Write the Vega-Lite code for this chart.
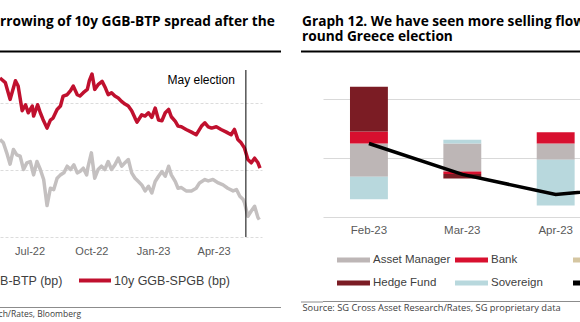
{
  "$schema": "https://vega.github.io/schema/vega-lite/v6.json",
  "padding": {"left": -123, "top": 14.5, "right": -114, "bottom": 0},
  "background": "white",
  "config": {
    "view": {"stroke": null},
    "font": "Liberation Sans",
    "axis": {"title": null, "labelColor": "#595959", "labelFont": "Liberation Sans"},
    "legend": {"labelFont": "Liberation Sans", "labelColor": "#404040", "padding": 0, "title": null},
    "title": {"font": "Open Sans", "fontWeight": "bold", "fontSize": 13.7, "color": "#000000", "anchor": "start"}
  },
  "resolve": {"scale": {"color": "independent"}, "legend": {"color": "independent"}},
  "spacing": 19,
  "hconcat": [
    {
      "spacing": 17.5,
      "bounds": "flush",
      "vconcat": [
        {
          "width": 281, "height": 2,
          "view": {"fill": "#000000", "stroke": null},
          "title": {"text": ["Graph 11. Narrowing of 10y GGB-BTP spread after the", "election"], "dx": -88, "offset": -9.5, "baseline": "alphabetic", "lineHeight": 15},
          "data": {"values": [{"a": 1}]},
          "mark": {"type": "text", "text": ""},
          "encoding": {}
        },
        {
          "spacing": 70,
          "bounds": "flush",
          "vconcat": [
            {
              "width": 262, "height": 167,
              "layer": [
                {
                  "data": {"values": [
                    {"date":"2022-05-18","series":"10y GGB-SPGB (bp)","bp":163},
                    {"date":"2022-05-26","series":"10y GGB-SPGB (bp)","bp":156},
                    {"date":"2022-06-02","series":"10y GGB-SPGB (bp)","bp":131},
                    {"date":"2022-06-10","series":"10y GGB-SPGB (bp)","bp":159},
                    {"date":"2022-06-14","series":"10y GGB-SPGB (bp)","bp":151},
                    {"date":"2022-06-20","series":"10y GGB-SPGB (bp)","bp":114},
                    {"date":"2022-06-25","series":"10y GGB-SPGB (bp)","bp":123},
                    {"date":"2022-06-29","series":"10y GGB-SPGB (bp)","bp":111},
                    {"date":"2022-07-05","series":"10y GGB-SPGB (bp)","bp":121},
                    {"date":"2022-07-07","series":"10y GGB-SPGB (bp)","bp":106},
                    {"date":"2022-07-13","series":"10y GGB-SPGB (bp)","bp":123},
                    {"date":"2022-07-17","series":"10y GGB-SPGB (bp)","bp":111},
                    {"date":"2022-07-21","series":"10y GGB-SPGB (bp)","bp":101},
                    {"date":"2022-07-27","series":"10y GGB-SPGB (bp)","bp":88},
                    {"date":"2022-08-01","series":"10y GGB-SPGB (bp)","bp":100},
                    {"date":"2022-08-05","series":"10y GGB-SPGB (bp)","bp":103},
                    {"date":"2022-08-11","series":"10y GGB-SPGB (bp)","bp":116},
                    {"date":"2022-08-16","series":"10y GGB-SPGB (bp)","bp":121},
                    {"date":"2022-08-20","series":"10y GGB-SPGB (bp)","bp":136},
                    {"date":"2022-08-26","series":"10y GGB-SPGB (bp)","bp":138},
                    {"date":"2022-08-31","series":"10y GGB-SPGB (bp)","bp":144},
                    {"date":"2022-09-04","series":"10y GGB-SPGB (bp)","bp":151},
                    {"date":"2022-09-10","series":"10y GGB-SPGB (bp)","bp":138},
                    {"date":"2022-09-14","series":"10y GGB-SPGB (bp)","bp":136},
                    {"date":"2022-09-19","series":"10y GGB-SPGB (bp)","bp":141},
                    {"date":"2022-09-25","series":"10y GGB-SPGB (bp)","bp":146},
                    {"date":"2022-09-28","series":"10y GGB-SPGB (bp)","bp":159},
                    {"date":"2022-10-02","series":"10y GGB-SPGB (bp)","bp":169},
                    {"date":"2022-10-06","series":"10y GGB-SPGB (bp)","bp":146},
                    {"date":"2022-10-11","series":"10y GGB-SPGB (bp)","bp":153},
                    {"date":"2022-10-17","series":"10y GGB-SPGB (bp)","bp":158},
                    {"date":"2022-10-22","series":"10y GGB-SPGB (bp)","bp":148},
                    {"date":"2022-10-26","series":"10y GGB-SPGB (bp)","bp":138},
                    {"date":"2022-10-31","series":"10y GGB-SPGB (bp)","bp":141},
                    {"date":"2022-11-05","series":"10y GGB-SPGB (bp)","bp":136},
                    {"date":"2022-11-10","series":"10y GGB-SPGB (bp)","bp":133},
                    {"date":"2022-11-15","series":"10y GGB-SPGB (bp)","bp":128},
                    {"date":"2022-11-20","series":"10y GGB-SPGB (bp)","bp":124},
                    {"date":"2022-11-25","series":"10y GGB-SPGB (bp)","bp":121},
                    {"date":"2022-11-30","series":"10y GGB-SPGB (bp)","bp":114},
                    {"date":"2022-12-05","series":"10y GGB-SPGB (bp)","bp":103},
                    {"date":"2022-12-08","series":"10y GGB-SPGB (bp)","bp":97},
                    {"date":"2022-12-15","series":"10y GGB-SPGB (bp)","bp":108},
                    {"date":"2022-12-20","series":"10y GGB-SPGB (bp)","bp":106},
                    {"date":"2022-12-25","series":"10y GGB-SPGB (bp)","bp":111},
                    {"date":"2022-12-30","series":"10y GGB-SPGB (bp)","bp":104},
                    {"date":"2023-01-04","series":"10y GGB-SPGB (bp)","bp":118},
                    {"date":"2023-01-09","series":"10y GGB-SPGB (bp)","bp":100},
                    {"date":"2023-01-14","series":"10y GGB-SPGB (bp)","bp":99},
                    {"date":"2023-01-19","series":"10y GGB-SPGB (bp)","bp":111},
                    {"date":"2023-01-24","series":"10y GGB-SPGB (bp)","bp":116},
                    {"date":"2023-01-28","series":"10y GGB-SPGB (bp)","bp":105},
                    {"date":"2023-02-03","series":"10y GGB-SPGB (bp)","bp":98},
                    {"date":"2023-02-07","series":"10y GGB-SPGB (bp)","bp":91},
                    {"date":"2023-02-12","series":"10y GGB-SPGB (bp)","bp":90},
                    {"date":"2023-02-19","series":"10y GGB-SPGB (bp)","bp":86},
                    {"date":"2023-02-27","series":"10y GGB-SPGB (bp)","bp":82},
                    {"date":"2023-03-06","series":"10y GGB-SPGB (bp)","bp":78},
                    {"date":"2023-03-14","series":"10y GGB-SPGB (bp)","bp":91},
                    {"date":"2023-03-19","series":"10y GGB-SPGB (bp)","bp":96},
                    {"date":"2023-03-24","series":"10y GGB-SPGB (bp)","bp":90},
                    {"date":"2023-03-29","series":"10y GGB-SPGB (bp)","bp":88},
                    {"date":"2023-04-05","series":"10y GGB-SPGB (bp)","bp":90},
                    {"date":"2023-04-12","series":"10y GGB-SPGB (bp)","bp":86},
                    {"date":"2023-04-20","series":"10y GGB-SPGB (bp)","bp":82},
                    {"date":"2023-04-27","series":"10y GGB-SPGB (bp)","bp":78},
                    {"date":"2023-05-02","series":"10y GGB-SPGB (bp)","bp":86},
                    {"date":"2023-05-07","series":"10y GGB-SPGB (bp)","bp":71},
                    {"date":"2023-05-12","series":"10y GGB-SPGB (bp)","bp":66},
                    {"date":"2023-05-17","series":"10y GGB-SPGB (bp)","bp":58},
                    {"date":"2023-05-22","series":"10y GGB-SPGB (bp)","bp":41},
                    {"date":"2023-05-27","series":"10y GGB-SPGB (bp)","bp":36},
                    {"date":"2023-06-01","series":"10y GGB-SPGB (bp)","bp":43},
                    {"date":"2023-06-06","series":"10y GGB-SPGB (bp)","bp":36},
                    {"date":"2023-06-09","series":"10y GGB-SPGB (bp)","bp":28},
                    {"date":"2022-05-18","series":"10y GGB-BTP (bp)","bp":71},
                    {"date":"2022-05-23","series":"10y GGB-BTP (bp)","bp":66},
                    {"date":"2022-05-28","series":"10y GGB-BTP (bp)","bp":51},
                    {"date":"2022-06-02","series":"10y GGB-BTP (bp)","bp":34},
                    {"date":"2022-06-07","series":"10y GGB-BTP (bp)","bp":56},
                    {"date":"2022-06-12","series":"10y GGB-BTP (bp)","bp":48},
                    {"date":"2022-06-17","series":"10y GGB-BTP (bp)","bp":46},
                    {"date":"2022-06-22","series":"10y GGB-BTP (bp)","bp":26},
                    {"date":"2022-06-27","series":"10y GGB-BTP (bp)","bp":36},
                    {"date":"2022-07-02","series":"10y GGB-BTP (bp)","bp":38},
                    {"date":"2022-07-07","series":"10y GGB-BTP (bp)","bp":18},
                    {"date":"2022-07-12","series":"10y GGB-BTP (bp)","bp":38},
                    {"date":"2022-07-17","series":"10y GGB-BTP (bp)","bp":26},
                    {"date":"2022-07-22","series":"10y GGB-BTP (bp)","bp":11},
                    {"date":"2022-07-27","series":"10y GGB-BTP (bp)","bp":-28},
                    {"date":"2022-08-01","series":"10y GGB-BTP (bp)","bp":-2},
                    {"date":"2022-08-06","series":"10y GGB-BTP (bp)","bp":-4},
                    {"date":"2022-08-11","series":"10y GGB-BTP (bp)","bp":13},
                    {"date":"2022-08-16","series":"10y GGB-BTP (bp)","bp":18},
                    {"date":"2022-08-21","series":"10y GGB-BTP (bp)","bp":21},
                    {"date":"2022-08-26","series":"10y GGB-BTP (bp)","bp":31},
                    {"date":"2022-08-31","series":"10y GGB-BTP (bp)","bp":26},
                    {"date":"2022-09-05","series":"10y GGB-BTP (bp)","bp":33},
                    {"date":"2022-09-10","series":"10y GGB-BTP (bp)","bp":21},
                    {"date":"2022-09-14","series":"10y GGB-BTP (bp)","bp":23},
                    {"date":"2022-09-19","series":"10y GGB-BTP (bp)","bp":28},
                    {"date":"2022-09-24","series":"10y GGB-BTP (bp)","bp":18},
                    {"date":"2022-09-26","series":"10y GGB-BTP (bp)","bp":30},
                    {"date":"2022-10-01","series":"10y GGB-BTP (bp)","bp":51},
                    {"date":"2022-10-06","series":"10y GGB-BTP (bp)","bp":13},
                    {"date":"2022-10-11","series":"10y GGB-BTP (bp)","bp":26},
                    {"date":"2022-10-16","series":"10y GGB-BTP (bp)","bp":31},
                    {"date":"2022-10-21","series":"10y GGB-BTP (bp)","bp":26},
                    {"date":"2022-10-26","series":"10y GGB-BTP (bp)","bp":38},
                    {"date":"2022-10-31","series":"10y GGB-BTP (bp)","bp":26},
                    {"date":"2022-11-05","series":"10y GGB-BTP (bp)","bp":33},
                    {"date":"2022-11-10","series":"10y GGB-BTP (bp)","bp":43},
                    {"date":"2022-11-15","series":"10y GGB-BTP (bp)","bp":31},
                    {"date":"2022-11-20","series":"10y GGB-BTP (bp)","bp":36},
                    {"date":"2022-11-25","series":"10y GGB-BTP (bp)","bp":41},
                    {"date":"2022-11-30","series":"10y GGB-BTP (bp)","bp":21},
                    {"date":"2022-12-05","series":"10y GGB-BTP (bp)","bp":13},
                    {"date":"2022-12-10","series":"10y GGB-BTP (bp)","bp":8},
                    {"date":"2022-12-15","series":"10y GGB-BTP (bp)","bp":3},
                    {"date":"2022-12-20","series":"10y GGB-BTP (bp)","bp":-6},
                    {"date":"2022-12-25","series":"10y GGB-BTP (bp)","bp":1},
                    {"date":"2022-12-30","series":"10y GGB-BTP (bp)","bp":-9},
                    {"date":"2023-01-04","series":"10y GGB-BTP (bp)","bp":8},
                    {"date":"2023-01-09","series":"10y GGB-BTP (bp)","bp":16},
                    {"date":"2023-01-14","series":"10y GGB-BTP (bp)","bp":23},
                    {"date":"2023-01-19","series":"10y GGB-BTP (bp)","bp":16},
                    {"date":"2023-01-24","series":"10y GGB-BTP (bp)","bp":31},
                    {"date":"2023-01-28","series":"10y GGB-BTP (bp)","bp":18},
                    {"date":"2023-02-03","series":"10y GGB-BTP (bp)","bp":8},
                    {"date":"2023-02-07","series":"10y GGB-BTP (bp)","bp":-2},
                    {"date":"2023-02-12","series":"10y GGB-BTP (bp)","bp":-1},
                    {"date":"2023-02-19","series":"10y GGB-BTP (bp)","bp":-6},
                    {"date":"2023-02-27","series":"10y GGB-BTP (bp)","bp":-6},
                    {"date":"2023-03-06","series":"10y GGB-BTP (bp)","bp":-2},
                    {"date":"2023-03-11","series":"10y GGB-BTP (bp)","bp":6},
                    {"date":"2023-03-19","series":"10y GGB-BTP (bp)","bp":11},
                    {"date":"2023-03-24","series":"10y GGB-BTP (bp)","bp":9},
                    {"date":"2023-03-31","series":"10y GGB-BTP (bp)","bp":11},
                    {"date":"2023-04-08","series":"10y GGB-BTP (bp)","bp":6},
                    {"date":"2023-04-15","series":"10y GGB-BTP (bp)","bp":3},
                    {"date":"2023-04-22","series":"10y GGB-BTP (bp)","bp":-2},
                    {"date":"2023-04-30","series":"10y GGB-BTP (bp)","bp":-6},
                    {"date":"2023-05-05","series":"10y GGB-BTP (bp)","bp":-4},
                    {"date":"2023-05-10","series":"10y GGB-BTP (bp)","bp":-14},
                    {"date":"2023-05-15","series":"10y GGB-BTP (bp)","bp":-19},
                    {"date":"2023-05-17","series":"10y GGB-BTP (bp)","bp":-24},
                    {"date":"2023-05-22","series":"10y GGB-BTP (bp)","bp":-44},
                    {"date":"2023-05-27","series":"10y GGB-BTP (bp)","bp":-36},
                    {"date":"2023-06-01","series":"10y GGB-BTP (bp)","bp":-29},
                    {"date":"2023-06-06","series":"10y GGB-BTP (bp)","bp":-46},
                    {"date":"2023-06-08","series":"10y GGB-BTP (bp)","bp":-49}
                  ]},
                  "mark": {"type": "line", "strokeWidth": 3.5, "strokeJoin": "round"},
                  "encoding": {
                    "x": {"field": "date", "type": "temporal",
                      "scale": {"type": "utc", "domain": [{"year": 2022, "month": 5, "date": 18, "utc": true}, {"year": 2023, "month": 6, "date": 12, "utc": true}]},
                      "axis": {"values": [{"year": 2022, "month": 7, "date": 1, "utc": true}, {"year": 2022, "month": 10, "date": 1, "utc": true}, {"year": 2023, "month": 1, "date": 1, "utc": true}, {"year": 2023, "month": 4, "date": 1, "utc": true}],
                        "format": "%b-%y", "domain": false, "ticks": false, "grid": false, "labelFontSize": 11, "labelPadding": 8}},
                    "y": {"field": "bp", "type": "quantitative",
                      "scale": {"domain": [-75, 175], "nice": false, "zero": false},
                      "axis": {"values": [-75, -50, -25, 0, 25, 50, 75, 100, 125, 150, 175], "labels": false, "ticks": false, "domain": false, "minExtent": 123, "maxExtent": 123,
                        "gridDash": {"condition": {"test": "datum.value === 0", "value": []}, "value": [3, 2]},
                        "gridColor": {"condition": {"test": "datum.value === 0", "value": "#C8C8C8"}, "value": "#DCDCDC"}}},
                    "color": {"field": "series", "type": "nominal",
                      "scale": {"domain": ["10y GGB-BTP (bp)", "10y GGB-SPGB (bp)"], "range": ["#C4C0C0", "#C0102E"]},
                      "legend": {"orient": "none", "legendX": -80, "legendY": 212, "direction": "horizontal", "symbolType": "stroke", "symbolSize": 1024, "symbolStrokeWidth": 4, "labelFontSize": 12.5, "labelOffset": 1, "columnPadding": 8}}
                  }
                },
                {
                  "data": {"values": [{"date": "2023-05-19", "label": "May election", "bp": 160}]},
                  "mark": {"type": "rule", "color": "#000000", "strokeWidth": 1},
                  "encoding": {"x": {"field": "date", "type": "temporal"}}
                },
                {
                  "data": {"values": [{"date": "2023-05-19", "label": "May election", "bp": 160}]},
                  "mark": {"type": "text", "align": "right", "baseline": "middle", "dx": -11, "fontSize": 12, "color": "#000000"},
                  "encoding": {"x": {"field": "date", "type": "temporal"}, "y": {"field": "bp", "type": "quantitative"}, "text": {"field": "label"}}
                }
              ]
            },
            {
              "width": 281, "height": 1,
              "view": {"fill": "#8C8C8C", "stroke": null},
              "title": {"text": "Source: SG Cross Asset Research/Rates, Bloomberg", "orient": "bottom", "anchor": "start", "dx": -121, "font": "Open Sans", "fontWeight": "normal", "fontSize": 8.5, "color": "#404040", "offset": -3},
              "data": {"values": [{"a": 1}]},
              "mark": {"type": "text", "text": ""},
              "encoding": {}
            }
          ]
        }
      ]
    },
    {
      "spacing": 17.5,
      "bounds": "flush",
      "vconcat": [
        {
          "width": 372, "height": 2,
          "view": {"fill": "#000000", "stroke": null},
          "title": {"text": ["Graph 12. We have seen more selling flows", "round Greece election"], "dx": 2, "offset": -9.5, "baseline": "alphabetic", "lineHeight": 15},
          "data": {"values": [{"a": 1}]},
          "mark": {"type": "text", "text": ""},
          "encoding": {
            "y": {"datum": 0.5, "type": "quantitative", "scale": {"domain": [0, 1]},
              "axis": {"values": [0.5], "labels": false, "domain": false, "grid": false, "ticks": true, "tickSize": 22, "tickWidth": 2, "tickColor": "#000000", "translate": 0}}
          }
        },
        {
          "spacing": 84,
          "bounds": "flush",
          "vconcat": [
            {
              "width": 372, "height": 147,
              "layer": [
                {
                  "data": {"values": [
                    {"month": "Feb-23", "type": "Asset Manager", "flow": -2.27},
                    {"month": "Feb-23", "type": "Bank", "flow": 0.82},
                    {"month": "Feb-23", "type": "Hedge Fund", "flow": 3.04},
                    {"month": "Feb-23", "type": "Sovereign", "flow": -1.52},
                    {"month": "Mar-23", "type": "Asset Manager", "flow": -1.9},
                    {"month": "Mar-23", "type": "Bank", "flow": -0.17},
                    {"month": "Mar-23", "type": "Hedge Fund", "flow": -0.31},
                    {"month": "Mar-23", "type": "Sovereign", "flow": 0.25},
                    {"month": "Apr-23", "type": "Asset Manager", "flow": -1.11},
                    {"month": "Apr-23", "type": "Bank", "flow": 0.77},
                    {"month": "Apr-23", "type": "Sovereign", "flow": -3.11}
                  ]},
                  "mark": {"type": "bar"},
                  "encoding": {
                    "x": {"field": "month", "type": "ordinal",
                      "scale": {"domain": ["Feb-23", "Mar-23", "Apr-23", "May-23"], "paddingInner": 0.594, "paddingOuter": 0.289},
                      "axis": {"labelAngle": 0, "domain": false, "ticks": false, "labelFontSize": 11.5, "labelPadding": 7}},
                    "y": {"field": "flow", "type": "quantitative", "stack": "zero",
                      "scale": {"domain": [-5, 5], "nice": false},
                      "axis": {"values": [-5, -4, -3, -2, -1, 0, 1, 2, 3, 4, 5], "labels": false, "domain": false, "tickSize": 10, "minExtent": 22, "maxExtent": 22,
                        "tickColor": {"condition": {"test": "datum.value === 0", "value": "#595959"}, "value": "transparent"},
                        "gridColor": {"condition": {"test": "datum.value === 0", "value": "#595959"}, "value": "#D9D9D9"}}},
                    "color": {"field": "type", "type": "nominal",
                      "scale": {"domain": ["Asset Manager", "Bank", "Corporate", "Hedge Fund", "Sovereign", "Net"], "range": ["#BDB6B6", "#D8102F", "#D5C6A1", "#7B1C24", "#B8D8DD", "#000000"]},
                      "legend": {"orient": "none", "legendX": 22, "legendY": 201, "direction": "horizontal", "columns": 3, "gridAlign": "all", "symbolType": "M-2,-0.3H2V0.3H-2Z", "symbolSize": 272, "symbolStrokeWidth": 0, "labelOffset": 11, "columnPadding": 4, "rowPadding": 9, "labelFontSize": 11.5}},
                    "order": {"field": "type", "type": "ordinal", "sort": "ascending"}
                  }
                },
                {
                  "data": {"values": [
                    {"month": "Feb-23", "type": "Net", "flow": 0},
                    {"month": "Mar-23", "type": "Net", "flow": -2.1},
                    {"month": "Apr-23", "type": "Net", "flow": -3.47},
                    {"month": "May-23", "type": "Net", "flow": -2.9}
                  ]},
                  "mark": {"type": "line", "strokeWidth": 3.5},
                  "encoding": {
                    "x": {"field": "month", "type": "ordinal"},
                    "y": {"field": "flow", "type": "quantitative"},
                    "color": {"field": "type", "type": "nominal"}
                  }
                }
              ]
            },
            {
              "width": 372, "height": 1,
              "view": {"fill": "#8C8C8C", "stroke": null},
              "title": {"text": "Source: SG Cross Asset Research/Rates, SG proprietary data", "orient": "bottom", "anchor": "start", "dx": 2, "font": "Open Sans", "fontWeight": "normal", "fontSize": 9.3, "color": "#404040", "offset": -3},
              "data": {"values": [{"a": 1}]},
              "mark": {"type": "text", "text": ""},
              "encoding": {
                "y": {"datum": 0.5, "type": "quantitative", "scale": {"domain": [0, 1]},
                  "axis": {"values": [0.5], "labels": false, "domain": false, "grid": false, "ticks": true, "tickSize": 22, "tickWidth": 1, "tickColor": "#8C8C8C", "translate": 0}}
              }
            }
          ]
        }
      ]
    }
  ]
}
